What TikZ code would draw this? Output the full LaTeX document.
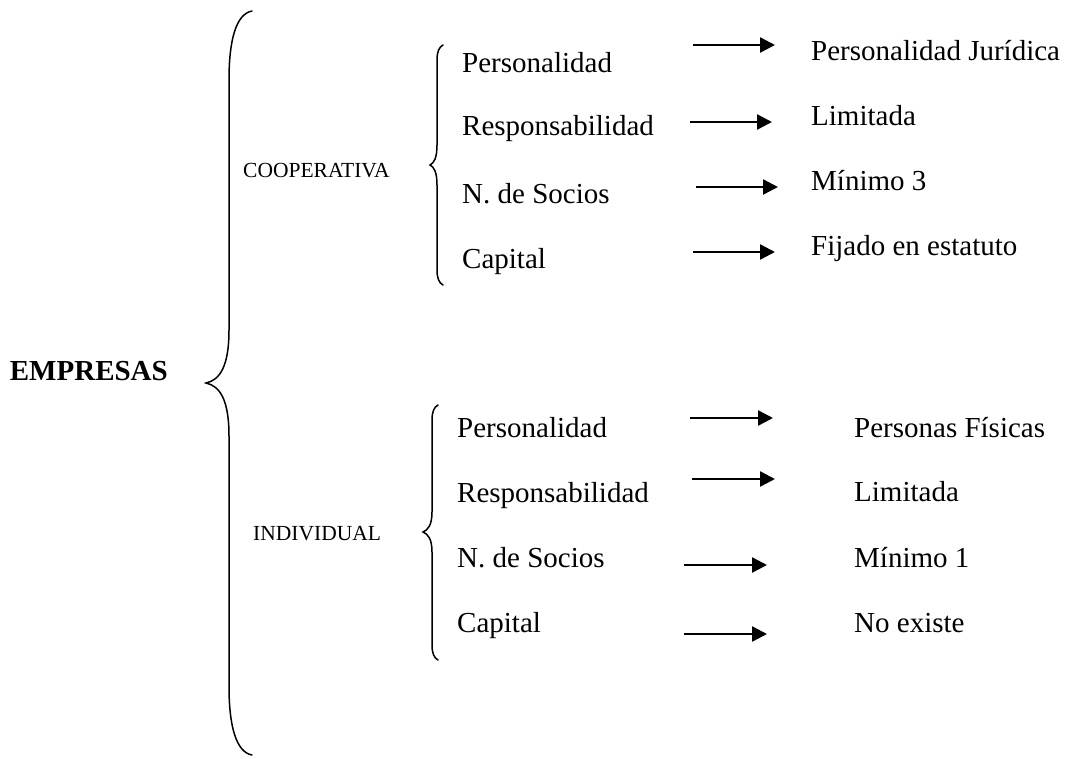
\documentclass[tikz,border=0pt]{standalone}
\usepackage{fontspec}
\setmainfont{Liberation Serif}
\usetikzlibrary{arrows.meta}
\begin{document}
\begin{tikzpicture}[x=1pt,y=-1pt,
  lbl/.style={anchor=base west,inner sep=0pt,font=\fontsize{29}{34}\selectfont},
  grp/.style={anchor=base west,inner sep=0pt,font=\fontsize{21.5}{26}\selectfont},
  root/.style={anchor=base east,inner sep=0pt,font=\fontsize{29}{34}\selectfont\bfseries},
  brace/.style={line width=1.5pt,line cap=round},
  conn/.style={line width=2.4pt,-{Triangle[length=15pt,width=15pt]}}]
\useasboundingbox (0,0) rectangle (1068,758);

% root and groups
\node[root] (emp) at (168,380) {EMPRESAS};
\node[grp] (coop) at (243,177) {COOPERATIVA};
\node[grp] (ind) at (253,540) {INDIVIDUAL};

% main brace
\draw[brace] (252,11) .. controls (236,14) and (229,40) .. (229,80) -- (229,330)
  .. controls (229,366) and (220,380) .. (206,383)
  .. controls (220,386) and (229,400) .. (229,436) -- (229,686)
  .. controls (229,726) and (236,752) .. (252,755);

% cooperative brace
\draw[brace] (443,45) .. controls (439,47) and (437,52) .. (437,60) -- (437,145)
  .. controls (437,158) and (434,163) .. (430,165)
  .. controls (434,167) and (437,172) .. (437,185) -- (437,270)
  .. controls (437,278) and (439,283) .. (443,285);

% individual brace
\draw[brace] (438,405) .. controls (434,407) and (432,412) .. (432,420) -- (432,512)
  .. controls (432,525) and (428,530) .. (423,532)
  .. controls (428,534) and (432,539) .. (432,552) -- (432,645)
  .. controls (432,653) and (434,658) .. (438,660);

% cooperative rows
\node[lbl] (cp1) at (462,72) {Personalidad};
\node[lbl] (cp2) at (462,135) {Responsabilidad};
\node[lbl] (cp3) at (462,203) {N. de Socios};
\node[lbl] (cp4) at (462,268) {Capital};
\node[lbl] (cv1) at (811,60) {Personalidad Jurídica};
\node[lbl] (cv2) at (811,125) {Limitada};
\node[lbl] (cv3) at (811,190) {Mínimo 3};
\node[lbl] (cv4) at (811,255) {Fijado en estatuto};

\coordinate (ca1s) at (693,45);  \coordinate (ca1e) at (775,45);
\coordinate (ca2s) at (690,122); \coordinate (ca2e) at (772,122);
\coordinate (ca3s) at (696,187); \coordinate (ca3e) at (778,187);
\coordinate (ca4s) at (693,252); \coordinate (ca4e) at (775,252);
\draw[conn] (ca1s) -- (ca1e);
\draw[conn] (ca2s) -- (ca2e);
\draw[conn] (ca3s) -- (ca3e);
\draw[conn] (ca4s) -- (ca4e);

% individual rows
\node[lbl] (ip1) at (457,437) {Personalidad};
\node[lbl] (ip2) at (457,502) {Responsabilidad};
\node[lbl] (ip3) at (457,567) {N. de Socios};
\node[lbl] (ip4) at (457,632) {Capital};
\node[lbl] (iv1) at (854,437) {Personas Físicas};
\node[lbl] (iv2) at (854,501) {Limitada};
\node[lbl] (iv3) at (854,567) {Mínimo 1};
\node[lbl] (iv4) at (854,632) {No existe};

\coordinate (ia1s) at (690,418); \coordinate (ia1e) at (773,418);
\coordinate (ia2s) at (692,479); \coordinate (ia2e) at (775,479);
\coordinate (ia3s) at (684,565); \coordinate (ia3e) at (767,565);
\coordinate (ia4s) at (684,634); \coordinate (ia4e) at (767,634);
\draw[conn] (ia1s) -- (ia1e);
\draw[conn] (ia2s) -- (ia2e);
\draw[conn] (ia3s) -- (ia3e);
\draw[conn] (ia4s) -- (ia4e);
\end{tikzpicture}
\end{document}
